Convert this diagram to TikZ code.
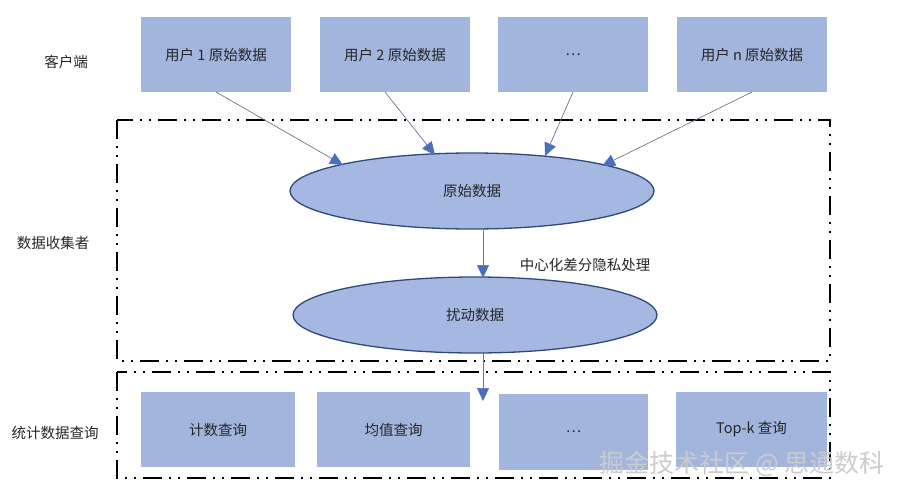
\documentclass[tikz,border=0pt]{standalone}
\usepackage{fontspec}
\setmainfont{Noto Sans CJK SC}
\usetikzlibrary{arrows.meta,shapes.geometric}
\definecolor{boxfill}{HTML}{A2B5DD}
\definecolor{ellfill}{HTML}{A5B8E1}
\definecolor{ellline}{HTML}{2E4A7A}
\definecolor{arrline}{HTML}{6A7690}
\definecolor{arrhead}{HTML}{4A6FBF}
\tikzset{
  txt/.style={font=\fontsize{14.5}{16}\selectfont,text=black!85},
  databox/.style={txt,draw=none,fill=boxfill,minimum width=150pt,minimum height=75pt,inner sep=0pt},
  ellnode/.style={txt,ellipse,draw=ellline,line width=1.3pt,fill=ellfill,minimum width=364pt,minimum height=76pt,inner sep=0pt},
  flow/.style={draw=arrline,line width=0.7pt,-{Triangle[length=13pt,width=12pt,color=arrhead,fill=arrhead]}},
  zone/.style={draw=black,line width=2.2pt,dash pattern=on 19pt off 7pt on 2pt off 7pt on 2pt off 7pt}
}
\begin{document}
\begin{tikzpicture}[x=1pt,y=-1pt]
\useasboundingbox (0,0) rectangle (901,495);
% zones
\draw[zone] (117,120) rectangle (830,361);
\draw[zone] (117,372) rectangle (830,478);
% row labels
\node[txt] (lclient) at (66,62) {客户端};
\node[txt] (lcollect) at (53,243) {数据收集者};
\node[txt] (lquery) at (55,433) {统计数据查询};
% top boxes
\node[databox] (u1) at (216,54.5) {用户 1 原始数据};
\node[databox] (u2) at (395,54.5) {用户 2 原始数据};
\node[databox] (u3) at (573,54.5) {…};
\node[databox] (un) at (752,54.5) {用户 n 原始数据};
% ellipses
\node[ellnode] (raw) at (472,191) {原始数据};
\node[ellnode] (pert) at (475,315) {扰动数据};
% bottom boxes
\node[databox,minimum width=154pt] (q1) at (218,429.5) {计数查询};
\node[databox,minimum width=153pt] (q2) at (393.5,429.5) {均值查询};
\node[databox,minimum width=149pt,minimum height=76pt] (q3) at (573.5,432) {…};
\node[databox,minimum width=151pt] (q4) at (751.5,429.5) {Top-k 查询};
% coordinates
\coordinate (a1s) at (216,92);
\coordinate (a1e) at (343,165);
\coordinate (a2s) at (385,92);
\coordinate (a2e) at (435,155);
\coordinate (a3s) at (573,92);
\coordinate (a3e) at (545,156);
\coordinate (a4s) at (752,92);
\coordinate (a4e) at (602,166);
\coordinate (m1s) at (483,229);
\coordinate (m1e) at (483,278);
\coordinate (m2s) at (483,352.5);
\coordinate (m2e) at (483,401);
% arrows
\draw[flow] (a1s) -- (a1e);
\draw[flow] (a2s) -- (a2e);
\draw[flow] (a3s) -- (a3e);
\draw[flow] (a4s) -- (a4e);
\draw[flow] (m1s) -- (m1e);
\draw[flow] (m2s) -- (m2e);
\node[txt] (dp) at (585,265) {中心化差分隐私处理};
% watermark
\node[font=\fontsize{25}{28}\selectfont,text=gray!40] (wm) at (742,464) {掘金技术社区 @ 思通数科};
\end{tikzpicture}
\end{document}
